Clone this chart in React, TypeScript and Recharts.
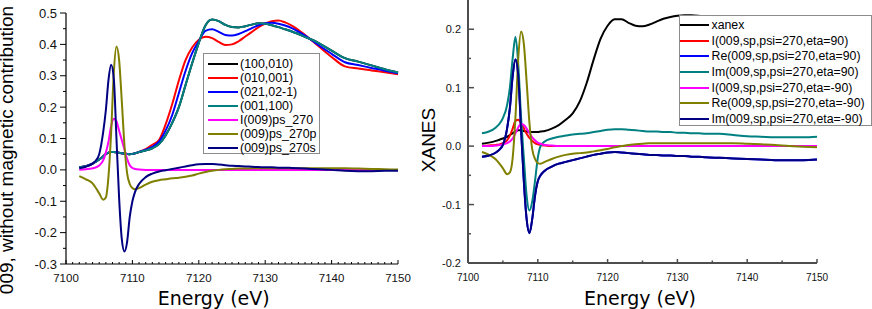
import React from 'react';
import { LineChart, Line, XAxis, YAxis, Legend } from 'recharts';

// shared energy grid (eV)
const energy = [
  7102, 7103, 7104, 7104.5, 7105, 7105.6, 7106, 7106.4, 7106.8, 7107.2,
  7107.6, 7108, 7108.4, 7108.8, 7109.2, 7109.6, 7110, 7110.4, 7111, 7112,
  7113, 7114, 7115, 7116, 7117, 7118, 7119, 7120, 7121, 7122,
  7123, 7124, 7125, 7126, 7127, 7128, 7129, 7130, 7131, 7132,
  7133, 7134, 7136, 7138, 7140, 7142, 7144, 7146, 7148, 7150,
];

// ---- left panel: 009, without magnetic contribution ----
const xanes001_100 = [
  0.008, 0.012, 0.02, 0.026, 0.033, 0.043, 0.05, 0.055, 0.057, 0.057,
  0.056, 0.055, 0.053, 0.052, 0.051, 0.05, 0.051, 0.053, 0.057, 0.062,
  0.069, 0.082, 0.11, 0.15, 0.2, 0.27, 0.34, 0.405, 0.46, 0.479,
  0.474, 0.462, 0.455, 0.454, 0.458, 0.463, 0.467, 0.466, 0.461, 0.455,
  0.448, 0.441, 0.424, 0.405, 0.38, 0.356, 0.345, 0.333, 0.321, 0.31,
];
const xanes100_010 = [
  0.008, 0.012, 0.02, 0.026, 0.033, 0.043, 0.05, 0.055, 0.057, 0.057,
  0.056, 0.055, 0.053, 0.052, 0.051, 0.05, 0.051, 0.053, 0.057, 0.062,
  0.069, 0.082, 0.11, 0.15, 0.2, 0.27, 0.34, 0.405, 0.46, 0.479,
  0.474, 0.462, 0.455, 0.454, 0.458, 0.463, 0.467, 0.466, 0.461, 0.455,
  0.448, 0.441, 0.424, 0.405, 0.38, 0.356, 0.345, 0.333, 0.321, 0.31,
];
const xanes010_001 = [
  0.008, 0.012, 0.02, 0.026, 0.033, 0.043, 0.05, 0.055, 0.057, 0.057,
  0.056, 0.055, 0.053, 0.052, 0.051, 0.05, 0.051, 0.053, 0.057, 0.066,
  0.08, 0.095, 0.145, 0.21, 0.285, 0.35, 0.39, 0.415, 0.424, 0.42,
  0.408, 0.398, 0.4, 0.41, 0.425, 0.44, 0.455, 0.466, 0.474, 0.476,
  0.47, 0.46, 0.43, 0.395, 0.36, 0.33, 0.323, 0.317, 0.311, 0.305,
];
const xanes021_02m1 = [
  0.008, 0.012, 0.02, 0.026, 0.033, 0.043, 0.05, 0.055, 0.057, 0.057,
  0.056, 0.055, 0.053, 0.052, 0.051, 0.05, 0.051, 0.053, 0.057, 0.064,
  0.073, 0.09, 0.125, 0.175, 0.245, 0.315, 0.372, 0.41, 0.443, 0.448,
  0.44, 0.43, 0.428, 0.433, 0.442, 0.452, 0.461, 0.467, 0.469, 0.466,
  0.46, 0.452, 0.428, 0.398, 0.37, 0.343, 0.334, 0.325, 0.316, 0.308,
];
const ps270I = [
  0, 0.002, 0.005, 0.008, 0.014, 0.03, 0.055, 0.09, 0.14, 0.163,
  0.155, 0.125, 0.095, 0.065, 0.035, 0.015, 0.006, 0.003, 0.001, 0,
  0, 0, 0, 0, 0, 0, 0, 0, 0, 0,
  0, 0, 0, 0, 0, 0, 0, 0, 0, 0,
  0, 0, 0, 0, 0, 0, 0, 0, 0, 0,
];
const ps270p = [
  -0.02, -0.03, -0.043, -0.058, -0.075, -0.095, -0.088, -0.02, 0.12, 0.31,
  0.393, 0.35, 0.22, 0.08, -0.01, -0.045, -0.058, -0.062, -0.058, -0.047,
  -0.038, -0.033, -0.03, -0.027, -0.025, -0.022, -0.018, -0.012, -0.007, -0.003,
  0.0, 0.002, 0.003, 0.004, 0.004, 0.005, 0.005, 0.005, 0.005, 0.005,
  0.005, 0.005, 0.005, 0.005, 0.005, 0.005, 0.004, 0.003, 0.002, 0.001,
];
const ps270s = [
  0.005, 0.01, 0.02, 0.03, 0.05, 0.12, 0.19, 0.287, 0.335, 0.29,
  0.1, -0.09, -0.22, -0.26, -0.23, -0.15, -0.1, -0.07, -0.045, -0.023,
  -0.012, -0.005, -0.001, 0.003, 0.007, 0.011, 0.015, 0.018, 0.019, 0.019,
  0.017, 0.015, 0.013, 0.012, 0.011, 0.01, 0.009, 0.008, 0.008, 0.007,
  0.007, 0.006, 0.004, 0.002, 0.0, -0.003, -0.004, -0.004, -0.003, -0.003,
];

// ---- right panel: XANES ----
const xanex = [
  0.004, 0.006, 0.009, 0.011, 0.013, 0.016, 0.019, 0.022, 0.025, 0.027,
  0.027, 0.026, 0.025, 0.024, 0.024, 0.024, 0.024, 0.025, 0.026, 0.03,
  0.036, 0.045, 0.056, 0.076, 0.108, 0.148, 0.184, 0.206, 0.217, 0.217,
  0.211, 0.206, 0.205, 0.208, 0.213, 0.218, 0.221, 0.223, 0.224, 0.224,
  0.223, 0.221, 0.215, 0.208, 0.2, 0.193, 0.19, 0.187, 0.185, 0.183,
];
const iEta90 = [
  0, 0.001, 0.002, 0.003, 0.005, 0.01, 0.018, 0.03, 0.043, 0.045,
  0.039, 0.03, 0.021, 0.014, 0.009, 0.005, 0.003, 0.002, 0.001, 0,
  0, 0, 0, 0, 0, 0, 0, 0, 0, 0,
  0, 0, 0, 0, 0, 0, 0, 0, 0, 0,
  0, 0, 0, 0, 0, 0, 0, 0, 0, 0,
];
const imEta90 = [
  0.022, 0.025, 0.032, 0.038, 0.048, 0.07, 0.1, 0.15, 0.187, 0.14,
  0.05, -0.02, -0.085, -0.11, -0.095, -0.06, -0.02, 0.0, 0.008, 0.013,
  0.016, 0.018, 0.02, 0.021, 0.022, 0.024, 0.026, 0.028, 0.029, 0.029,
  0.028, 0.027, 0.026, 0.025, 0.025, 0.024, 0.024, 0.023, 0.023, 0.022,
  0.022, 0.021, 0.021, 0.019, 0.017, 0.016, 0.015, 0.015, 0.015, 0.016,
];
const iEtaM90 = [
  0, 0, 0.001, 0.002, 0.003, 0.005, 0.008, 0.013, 0.022, 0.032,
  0.038, 0.036, 0.03, 0.022, 0.015, 0.01, 0.006, 0.004, 0.002, 0.001,
  0, 0, 0, 0, 0, 0, 0, 0, 0, 0,
  0, 0, 0, 0, 0, 0, 0, 0, 0, 0,
  0, 0, 0, 0, 0, 0, 0, 0, 0, 0,
];
const reEtaM90 = [
  -0.01, -0.015, -0.023, -0.03, -0.038, -0.048, -0.045, -0.02, 0.05, 0.15,
  0.196, 0.175, 0.11, 0.04, -0.005, -0.022, -0.029, -0.03, -0.027, -0.022,
  -0.018, -0.015, -0.013, -0.012, -0.011, -0.009, -0.007, -0.005, -0.002, 0.0,
  0.002, 0.003, 0.004, 0.005, 0.005, 0.005, 0.005, 0.005, 0.005, 0.005,
  0.005, 0.005, 0.005, 0.005, 0.004, 0.003, 0.002, 0.0, -0.001, -0.002,
];
const imEtaM90 = [
  -0.018, -0.016, -0.011, -0.006, 0.002, 0.03, 0.065, 0.12, 0.148, 0.12,
  0.03, -0.06, -0.125, -0.149, -0.125, -0.085, -0.06, -0.05, -0.042, -0.035,
  -0.03, -0.027, -0.024, -0.021, -0.018, -0.015, -0.013, -0.011, -0.01, -0.011,
  -0.012, -0.013, -0.014, -0.015, -0.015, -0.016, -0.016, -0.017, -0.017, -0.018,
  -0.018, -0.019, -0.02, -0.021, -0.022, -0.023, -0.024, -0.024, -0.024, -0.023,
];
// not visible in the figure, lies under Im(eta=-90)
const reEta90 = imEtaM90;

// ticks
const leftXLabels = [7100, 7110, 7120, 7130, 7140, 7150];
const leftXTicks = Array.from({ length: 51 }, (_, i) => 7100 + i);
const leftYLabels = [-0.3, -0.2, -0.1, 0, 0.1, 0.2, 0.3, 0.4, 0.5];
const leftYTicks = [-0.3, -0.25, -0.2, -0.15, -0.1, -0.05, 0, 0.05, 0.1, 0.15, 0.2, 0.25, 0.3, 0.35, 0.4, 0.45, 0.5];
const rightXLabels = [7100, 7110, 7120, 7130, 7140, 7150];
const rightXTicks = [7100, 7105, 7110, 7115, 7120, 7125, 7130, 7135, 7140, 7145, 7150];
const rightYLabels = [-0.2, -0.1, 0, 0.1, 0.2];
const rightYTicks = [-0.2, -0.15, -0.1, -0.05, 0, 0.05, 0.1, 0.15, 0.2];

type Series = { key: string; name: string; color: string; values: number[] };

const leftSeries: Series[] = [
  { key: 's1', name: '(100,010)', color: '#000000', values: xanes100_010 },
  { key: 's2', name: '(010,001)', color: '#ff0000', values: xanes010_001 },
  { key: 's3', name: '(021,02-1)', color: '#0000ff', values: xanes021_02m1 },
  { key: 's4', name: '(001,100)', color: '#008080', values: xanes001_100 },
  { key: 's5', name: 'I(009)ps_270', color: '#ff00ff', values: ps270I },
  { key: 's6', name: '(009)ps_270p', color: '#808000', values: ps270p },
  { key: 's7', name: '(009)ps_270s', color: '#000080', values: ps270s },
];

const rightSeries: Series[] = [
  { key: 's1', name: 'xanex', color: '#000000', values: xanex },
  { key: 's2', name: 'I(009,sp,psi=270,eta=90)', color: '#ff0000', values: iEta90 },
  { key: 's3', name: 'Re(009,sp,psi=270,eta=90)', color: '#0000ff', values: reEta90 },
  { key: 's4', name: 'Im(009,sp,psi=270,eta=90)', color: '#008080', values: imEta90 },
  { key: 's5', name: 'I(009,sp,psi=270,eta=-90)', color: '#ff00ff', values: iEtaM90 },
  { key: 's6', name: 'Re(009,sp,psi=270,eta=-90)', color: '#808000', values: reEtaM90 },
  { key: 's7', name: 'Im(009,sp,psi=270,eta=-90)', color: '#000080', values: imEtaM90 },
];

function buildRows(series: Series[]) {
  return energy.map((en, i) => {
    const row: Record<string, number> = { energy: en };
    series.forEach(s => { row[s.key] = s.values[i]; });
    return row;
  });
}

const leftData = buildRows(leftSeries);
const rightData = buildRows(rightSeries);

const SANS = '"Liberation Sans", Arial, sans-serif';
const isIn = (list: number[], v: number) => list.some(l => Math.abs(l - v) < 1e-6);

const makeXTick = (labels: number[], majorLen: number, minorLen: number, fontSize: number, dy: number, stroke: string, sw: number) =>
  (props: any) => {
    const { x, y, payload } = props;
    const v = payload.value as number;
    const major = isIn(labels, v);
    return (
      <g>
        <line x1={x} x2={x} y1={y} y2={y - (major ? majorLen : minorLen)} stroke={stroke} strokeWidth={sw} />
        {major && (
          <text x={x} y={y + dy} textAnchor="middle" dominantBaseline="central" fontSize={fontSize} fontFamily={SANS} fill="#111">
            {String(v)}
          </text>
        )}
      </g>
    );
  };

// dir = -1 ticks point left (outside), +1 ticks point right (inside)
const makeYTick = (labels: number[], majorLen: number, minorLen: number, dir: number, fontSize: number, gap: number, stroke: string, sw: number) =>
  (props: any) => {
    const { x, y, payload } = props;
    const v = payload.value as number;
    const major = isIn(labels, v);
    return (
      <g>
        <line x1={x} x2={x + dir * (major ? majorLen : minorLen)} y1={y} y2={y} stroke={stroke} strokeWidth={sw} />
        {major && (
          <text x={x - gap} y={y} textAnchor="end" dominantBaseline="central" fontSize={fontSize} fontFamily={SANS} fill="#111">
            {v.toFixed(1)}
          </text>
        )}
      </g>
    );
  };

type BoxProps = {
  payload?: any[];
  order: Series[];
  width: number;
  height: number;
  rowHeight: number;
  padTop: number;
  padLeft: number;
  lineLen: number;
  gap: number;
  fontSize: number;
};

const LegendBox = ({ payload = [], order, width, height, rowHeight, padTop, padLeft, lineLen, gap, fontSize }: BoxProps) => {
  const items = order
    .map(s => payload.find((p: any) => p.value === s.name))
    .filter(Boolean);
  return (
    <div
      style={{
        width, height, boxSizing: 'border-box', border: '1px solid #8c8c8c', background: '#fff',
        paddingTop: padTop, paddingLeft: padLeft, fontFamily: SANS, fontSize, color: '#000',
      }}
    >
      {items.map((it: any) => (
        <div key={it.value} style={{ display: 'flex', alignItems: 'center', height: rowHeight, whiteSpace: 'nowrap' }}>
          <span style={{ display: 'inline-block', width: lineLen, height: 2, background: it.color, marginRight: gap }} />
          <span>{it.value}</span>
        </div>
      ))}
    </div>
  );
};

const titleBase: React.CSSProperties = {
  position: 'absolute', whiteSpace: 'nowrap', lineHeight: 1, color: '#000',
};

export default function App() {
  return (
    <div style={{ position: 'absolute', left: 0, top: 0, width: 872, height: 309, background: '#fff', overflow: 'hidden' }}>
      <div style={{ position: 'absolute', left: 0, top: 0 }}>
        <LineChart width={440} height={309} data={leftData} margin={{ top: 13, right: 42, bottom: 0, left: 0 }}>
          <XAxis
            dataKey="energy" type="number" domain={[7100, 7150]} ticks={leftXTicks} interval={0}
            height={45} tickSize={0} tickMargin={0} tickLine={false}
            axisLine={{ stroke: '#000', strokeWidth: 1.2 }}
            tick={makeXTick(leftXLabels, 4, 2, 11.5, 14, '#000', 1)}
          />
          <YAxis
            type="number" domain={[-0.3, 0.5]} ticks={leftYTicks} interval={0}
            width={66} tickSize={0} tickMargin={0} tickLine={false}
            axisLine={{ stroke: '#000', strokeWidth: 1.2 }}
            tick={makeYTick(leftYLabels, 6, 3, -1, 13, 9, '#000', 1)}
          />
          <Legend
            layout="horizontal" verticalAlign="middle" align="center"
            wrapperStyle={{ left: 203, top: 53, width: 117, height: 101 }}
            content={(p: any) => (
              <LegendBox payload={p.payload} order={leftSeries} width={117} height={101}
                rowHeight={13.9} padTop={3.4} padLeft={4} lineLen={30} gap={2} fontSize={12.4} />
            )}
          />
          {leftSeries.map(s => (
            <Line key={s.key} type="monotone" dataKey={s.key} name={s.name} stroke={s.color}
              strokeWidth={2} dot={false} activeDot={false} isAnimationActive={false} />
          ))}
        </LineChart>
      </div>

      <div style={{ position: 'absolute', left: 440, top: 0 }}>
        <LineChart width={432} height={309} data={rightData} margin={{ top: 0, right: 55, bottom: 0, left: 0 }}>
          <XAxis
            dataKey="energy" type="number" domain={[7100, 7150]} ticks={rightXTicks} interval={0}
            height={46} tickSize={0} tickMargin={0} tickLine={false}
            axisLine={{ stroke: '#4d4d4d', strokeWidth: 2 }}
            tick={makeXTick(rightXLabels, 4, 2.5, 10, 14, '#4d4d4d', 1.5)}
          />
          <YAxis
            type="number" domain={[-0.2, 0.25]} ticks={rightYTicks} interval={0}
            width={28} tickSize={0} tickMargin={0} tickLine={false}
            axisLine={{ stroke: '#4d4d4d', strokeWidth: 2 }}
            tick={makeYTick(rightYLabels, 6, 3, 1, 11, 7, '#4d4d4d', 1.5)}
          />
          <Legend
            layout="horizontal" verticalAlign="middle" align="center"
            wrapperStyle={{ left: 239, top: 15, width: 193, height: 111 }}
            content={(p: any) => (
              <LegendBox payload={p.payload} order={rightSeries} width={193} height={111}
                rowHeight={15.7} padTop={1.2} padLeft={0} lineLen={29} gap={2.5} fontSize={12.3} />
            )}
          />
          {rightSeries.map(s => (
            <Line key={s.key} type="monotone" dataKey={s.key} name={s.name} stroke={s.color}
              strokeWidth={2} dot={false} activeDot={false} isAnimationActive={false} />
          ))}
        </LineChart>
      </div>

      <div style={{ ...titleBase, left: 5.5, top: 150, fontSize: 19, fontFamily: SANS, transform: 'translate(-50%, -50%) rotate(-90deg)' }}>
        009, without magnetic contribution
      </div>
      <div style={{ ...titleBase, left: 428.4, top: 140, fontSize: 19, fontFamily: SANS, transform: 'translate(-50%, -50%) rotate(-90deg)' }}>
        XANES
      </div>
      <div style={{ ...titleBase, left: 213.7, top: 298.4, fontSize: 19, fontFamily: '"DejaVu Sans", sans-serif', transform: 'translate(-50%, -50%)' }}>
        Energy (eV)
      </div>
      <div style={{ ...titleBase, left: 640, top: 298.4, fontSize: 19, fontFamily: '"DejaVu Sans", sans-serif', transform: 'translate(-50%, -50%)' }}>
        Energy (eV)
      </div>
    </div>
  );
}
